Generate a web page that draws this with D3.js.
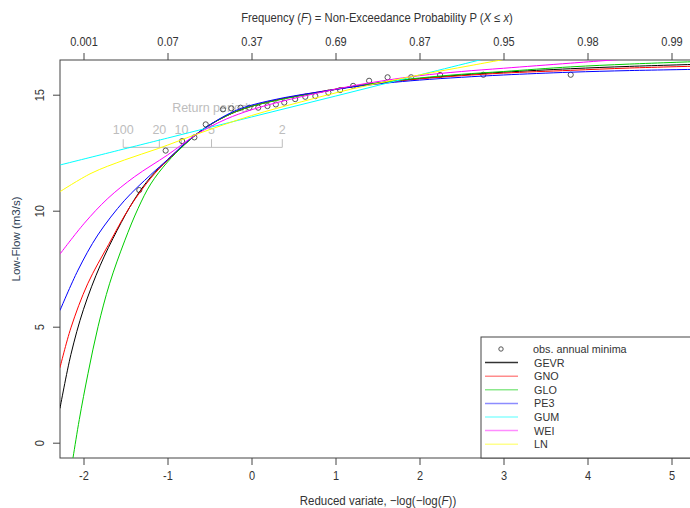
<!DOCTYPE html>
<html>
<head>
<meta charset="utf-8">
<script src="https://cdn.jsdelivr.net/npm/d3@7"></script>
<style>
  html, body { margin: 0; padding: 0; background: #fff; }
  svg { display: block; }
  text { font-family: "Liberation Sans", Arial, sans-serif; fill: #333; }
</style>
</head>
<body>
<svg id="chart" width="690" height="508"></svg>
<script>
// ---------------- DATA ----------------
const xTicks = [-2, -1, 0, 1, 2, 3, 4, 5];
const freqLabels = ["0.001", "0.07", "0.37", "0.69", "0.87", "0.95", "0.98", "0.99"];
const yTicks = [0, 5, 10, 15];
const returnPeriods = [100, 20, 10, 5, 2];

// observed annual minima (reduced variate, low-flow)
const obsX = [-1.336, -1.022, -0.826, -0.680, -0.545, -0.34, -0.24, -0.13, -0.025, 0.08,
              0.19, 0.29, 0.39, 0.52, 0.64, 0.76, 0.915, 1.055, 1.21, 1.40,
              1.62, 1.90, 2.245, 2.76, 3.80];
const obsY = [10.89, 12.59, 13.0, 13.16, 13.72, 14.37, 14.41, 14.44, 14.44, 14.44,
              14.51, 14.58, 14.66, 14.81, 14.91, 14.94, 15.09, 15.2, 15.38, 15.6,
              15.75, 15.75, 15.85, 15.86, 15.86];

// fitted distributions: [reduced variate, low-flow]
const curveGEVR = [[-2.28,1.48],[-2.15,3.8],[-2.0,5.75],[-1.8,7.65],[-1.6,9.15],[-1.4,10.45],[-1.2,11.45],
  [-1.0,12.18],[-0.8,12.85],[-0.6,13.45],[-0.4,13.9],[-0.2,14.25],[0,14.5],[0.4,14.85],[0.8,15.1],
  [1.2,15.35],[1.6,15.55],[2.0,15.7],[2.5,15.85],[3.0,15.97],[3.8,16.12],[4.5,16.22],[5.4,16.32]];
const curveGNO = [[-2.28,3.23],[-2.15,4.95],[-1.95,6.85],[-1.7,8.55],[-1.45,10.15],[-1.2,11.4],
  [-1.0,12.18],[-0.8,12.85],[-0.6,13.45],[-0.4,13.9],[-0.2,14.25],[0,14.5],[0.4,14.85],[0.8,15.12],
  [1.2,15.35],[1.6,15.53],[2.0,15.68],[2.5,15.82],[3.0,15.93],[3.8,16.05],[4.5,16.15],[5.4,16.24]];
const curveGLO = [[-2.16,-1.4],[-2.125,-0.65],[-2.05,1.0],[-1.946,2.99],[-1.827,5.0],[-1.69,6.85],[-1.51,8.7],
  [-1.35,10.1],[-1.2,11.15],[-1.0,12.1],[-0.8,12.83],[-0.6,13.45],[-0.4,13.9],[-0.2,14.25],[0,14.5],
  [0.4,14.83],[0.8,15.1],[1.2,15.35],[1.6,15.55],[2.0,15.72],[2.5,15.88],[3.0,16.0],[3.8,16.2],
  [4.5,16.32],[5.4,16.44]];
const curvePE3 = [[-2.28,5.7],[-2.065,7.44],[-1.83,8.95],[-1.51,10.45],[-1.2,11.55],[-1.0,12.2],
  [-0.8,12.88],[-0.6,13.45],[-0.4,13.92],[-0.2,14.3],[0,14.55],[0.4,14.88],[0.8,15.12],[1.2,15.33],
  [1.6,15.5],[2.0,15.63],[2.5,15.75],[3.0,15.85],[3.8,15.97],[4.5,16.04],[5.4,16.1]];
const curveGUM = [[-2.28,11.97],[-1.0,13.13],[0,14.04],[1.0,14.94],[2.0,15.85],[3.0,16.75]];
const curveWEI = [[-2.28,8.13],[-1.99,9.46],[-1.71,10.53],[-1.39,11.47],[-1.0,12.4],[-0.65,13.3],
  [-0.3,13.95],[0,14.35],[0.4,14.75],[0.8,15.08],[1.2,15.38],[1.6,15.62],[2.0,15.82],[2.5,16.0],
  [3.0,16.14],[3.8,16.36],[4.5,16.55]];
const curveLN = [[-2.28,10.82],[-1.91,11.61],[-1.51,12.19],[-1.11,12.68],[-0.65,13.3],[0,14.1],
  [0.6,14.7],[1.2,15.25],[2.0,15.85],[2.6,16.25],[3.2,16.65]];

const seriesNames = ["GEVR", "GNO", "GLO", "PE3", "GUM", "WEI", "LN"];
const seriesColors = ["#000000", "#ff0000", "#00cd00", "#0000ff", "#00ffff", "#ff00ff", "#ffff00"];
const seriesData = [curveGEVR, curveGNO, curveGLO, curvePE3, curveGUM, curveWEI, curveLN];

// ---------------- LAYOUT ----------------
const svg = d3.select("#chart");
const plot = { left: 60, top: 60, right: 696, bottom: 458 };

const x = d3.scaleLinear().domain([-2, 5]).range([83.5, 671.5]);
const y = d3.scaleLinear().domain([0, 15]).range([442.7, 94.7]);

svg.append("defs").append("clipPath").attr("id", "clip")
  .append("rect").attr("x", plot.left).attr("y", plot.top)
  .attr("width", plot.right - plot.left).attr("height", plot.bottom - plot.top);

// ---------------- AXES ----------------
const axisColor = "#444";
const gB = svg.append("g").attr("transform", `translate(0,${plot.bottom})`)
  .call(d3.axisBottom(x).tickValues(xTicks).tickSize(7).tickPadding(6).tickFormat(d => String(d)));
const gT = svg.append("g").attr("transform", `translate(0,${plot.top})`)
  .call(d3.axisTop(x).tickValues(xTicks).tickSize(7).tickPadding(7).tickFormat((d, i) => freqLabels[i]));
const gL = svg.append("g").attr("transform", `translate(${plot.left},0)`)
  .call(d3.axisLeft(y).tickValues(yTicks).tickSize(7).tickPadding(5));
[gB, gT, gL].forEach(g => {
  g.select(".domain").remove();
  g.selectAll("line").attr("stroke", axisColor);
  g.selectAll("text").attr("font-size", 12.5).style("fill", "#333");
});
gB.selectAll(".tick text").attr("transform", "scale(0.88,1)");
gT.selectAll(".tick text").attr("transform", "scale(0.88,1)");
gL.selectAll(".tick text").attr("text-anchor", "middle").attr("dy", null)
  .attr("x", 0).attr("y", 4).attr("transform", "translate(-20,0) rotate(-90) scale(0.88,1)");

// frame
svg.append("rect").attr("x", plot.left).attr("y", plot.top)
  .attr("width", plot.right - plot.left).attr("height", plot.bottom - plot.top)
  .attr("fill", "none").attr("stroke", axisColor).attr("stroke-width", 1);

// titles
const topTitle = svg.append("text").attr("transform", "translate(377,22) scale(0.9,1)")
  .attr("text-anchor", "middle").attr("font-size", 12.5);
topTitle.append("tspan").text("Frequency (");
topTitle.append("tspan").attr("font-style", "italic").text("F");
topTitle.append("tspan").text(") = Non-Exceedance Probability P (");
topTitle.append("tspan").attr("font-style", "italic").text("X");
topTitle.append("tspan").text(" \u2264 ");
topTitle.append("tspan").attr("font-style", "italic").text("x");
topTitle.append("tspan").text(")");

const botTitle = svg.append("text").attr("transform", "translate(378,505) scale(0.92,1)")
  .attr("text-anchor", "middle").attr("font-size", 12.5);
botTitle.append("tspan").text("Reduced variate,  \u2212log(\u2212log(");
botTitle.append("tspan").attr("font-style", "italic").text("F");
botTitle.append("tspan").text("))");

svg.append("text").attr("transform", "translate(20,239) rotate(-90)")
  .attr("text-anchor", "middle").attr("font-size", 11.5).style("fill", "#2f3f55").text("Low-Flow (m3/s)");

// ---------------- RETURN PERIOD INSET ----------------
const rpColor = "#bdbdbd";
const rpX = T => x(-Math.log(-Math.log(1 / T)));
const gRP = svg.append("g");
gRP.append("line").attr("x1", rpX(100)).attr("x2", rpX(2))
  .attr("y1", y(12.73)).attr("y2", y(12.73)).attr("stroke", rpColor);
gRP.selectAll(".rpt").data(returnPeriods).join("line")
  .attr("x1", d => rpX(d)).attr("x2", d => rpX(d))
  .attr("y1", y(12.73)).attr("y2", y(13.08)).attr("stroke", rpColor);
gRP.selectAll(".rpl").data(returnPeriods).join("text")
  .attr("x", d => rpX(d)).attr("y", y(13.3)).attr("text-anchor", "middle")
  .attr("font-size", 12.5).style("fill", rpColor).text(d => d);
gRP.append("text").attr("x", 210).attr("y", y(14.25)).attr("text-anchor", "middle")
  .attr("font-size", 12.5).style("fill", rpColor).text("Return period");

// ---------------- DATA MARKS ----------------
const gPlot = svg.append("g").attr("clip-path", "url(#clip)");
gPlot.selectAll(".obs").data(obsX.map((d, i) => [d, obsY[i]])).join("circle")
  .attr("cx", d => x(d[0])).attr("cy", d => y(d[1])).attr("r", 2.6)
  .attr("fill", "none").attr("stroke", "#555").attr("stroke-width", 1);

const line = d3.line().x(d => x(d[0])).y(d => y(d[1])).curve(d3.curveCatmullRom.alpha(0.5));
seriesData.forEach((data, i) => {
  gPlot.append("path").datum(data).attr("d", line)
    .attr("fill", "none").attr("stroke", seriesColors[i]).attr("stroke-width", 1);
});

// ---------------- LEGEND ----------------
const lg = svg.append("g");
lg.append("rect").attr("x", 481).attr("y", 337).attr("width", 230).attr("height", plot.bottom - 337)
  .attr("fill", "#fff").attr("stroke", axisColor);
const rowY = i => 349 + i * 13.6;
const legFont = '"Open Sans","Liberation Sans",Arial,sans-serif';
lg.append("circle").attr("cx", 501).attr("cy", rowY(0)).attr("r", 2.2)
  .attr("fill", "none").attr("stroke", "#555");
lg.append("text").attr("x", 533).attr("y", rowY(0) + 4).attr("font-size", 10.8)
  .attr("font-family", legFont).text("obs. annual minima");
seriesNames.forEach((name, i) => {
  const yy = rowY(i + 1);
  lg.append("line").attr("x1", 485).attr("x2", 518).attr("y1", yy).attr("y2", yy)
    .attr("stroke", seriesColors[i]).attr("stroke-opacity", i === 0 ? 0.8 : 0.45).attr("stroke-width", 1.5);
  lg.append("text").attr("x", 534).attr("y", yy + 4).attr("font-size", 10.8)
    .attr("font-family", legFont).text(name);
});
</script>
</body>
</html>
